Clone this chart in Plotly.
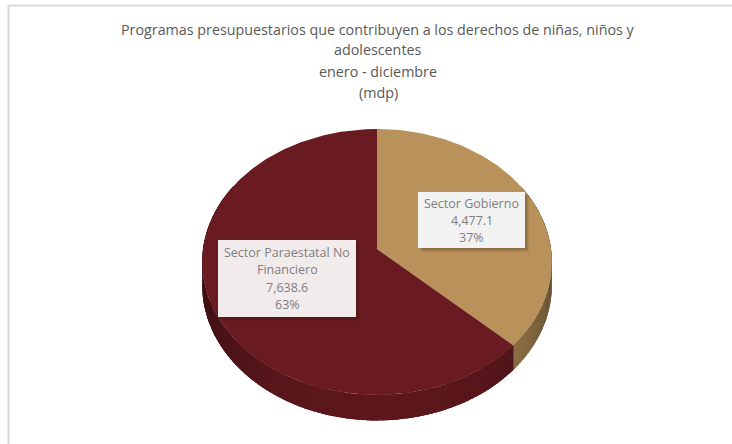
import math
import textwrap
import plotly.graph_objects as go

title_lines = [
    "Programas presupuestarios que contribuyen a los derechos de niñas, niños y",
    "adolescentes",
    "enero - diciembre",
    "(mdp)",
]
sectors = ["Sector Gobierno", "Sector Paraestatal No Financiero"]
amounts = [4477.1, 7638.6]
slice_colors = [(184, 146, 90), (106, 27, 33)]

W, H = 732, 444
FONT = "Open Sans"

# tilted disc seen in perspective, everything in screen pixels
CX, CY = 377, 249
A, B, K = 174, 131.7, 0.0977
DEPTH = 23


def rim(theta, drop=0.0):
    t = math.radians(theta)
    u, v = math.sin(t), math.cos(t)
    w = 1 + K * v
    return CX + A * u / w, CY - B * v / w + drop / w


def shade(rgb, f):
    return "rgb(%d,%d,%d)" % tuple(int(c * f) for c in rgb)


def poly(fig, pts, color, name=None):
    fig.add_trace(go.Scatter(
        x=[p[0] for p in pts] + [pts[0][0]],
        y=[p[1] for p in pts] + [pts[0][1]],
        fill="toself", fillcolor=color, mode="lines",
        line=dict(color=color, width=0), name=name,
        hoverinfo="name" if name else "skip", showlegend=False))


total = sum(amounts)
bounds = [0.0]
for a in amounts:
    bounds.append(bounds[-1] + 360.0 * a / total)

fig = go.Figure()

# side walls first, top faces cover the hidden part
for i in range(len(amounts)):
    a0, a1 = max(bounds[i], 60), min(bounds[i + 1], 300)
    steps = [a0 + (a1 - a0) * k / 120 for k in range(121)]
    base = [rim(p) for p in steps] + [rim(p, DEPTH) for p in reversed(steps)]
    poly(fig, base, shade(slice_colors[i], 0.7))
    phi = a0
    while phi < a1:
        p1 = min(phi + 1.5, a1)
        pe = min(p1 + 0.6, a1)
        pts = [rim(phi), rim(pe), rim(pe, DEPTH), rim(phi, DEPTH)]
        mid = (phi + p1) / 2
        f = 0.45 + 0.43 * max(math.sin(math.radians(mid - 90)), 0) ** 0.9
        poly(fig, pts, shade(slice_colors[i], f))
        phi = p1

for i in range(len(amounts)):
    a0, a1 = bounds[i], bounds[i + 1]
    n = max(int(a1 - a0), 2)
    pts = [(CX, CY)] + [rim(a0 + (a1 - a0) * k / n) for k in range(n + 1)]
    poly(fig, pts, shade(slice_colors[i], 1.0), name=sectors[i])

# data labels
label_boxes = [
    dict(x=471.5, y=220, w=107, h=56, bg="#F2F2F2", step=17),
    dict(x=287, y=278.5, w=138, h=77, bg="#F2EBEB", step=17.6),
]
for i, box in enumerate(label_boxes):
    lines = textwrap.wrap(sectors[i], 21)
    lines += ["{:,.1f}".format(amounts[i]), "{:.0f}%".format(100 * amounts[i] / total)]
    x0, x1 = box["x"] - box["w"] / 2, box["x"] + box["w"] / 2
    y0, y1 = box["y"] - box["h"] / 2, box["y"] + box["h"] / 2
    for off, op in [(4, 0.08), (3, 0.10), (1.5, 0.14)]:
        fig.add_shape(type="rect", x0=x0 + off, x1=x1 + off, y0=y0 + off, y1=y1 + off,
                      fillcolor="rgba(40,20,10,%.2f)" % op, line_width=0, layer="above")
    fig.add_shape(type="rect", x0=x0, x1=x1, y0=y0, y1=y1,
                  fillcolor=box["bg"], line_width=0, layer="above")
    top = box["y"] - box["step"] * (len(lines) - 1) / 2
    for k, txt in enumerate(lines):
        fig.add_annotation(
            x=box["x"], y=top + k * box["step"], xref="x", yref="y", text=txt,
            showarrow=False, font=dict(family=FONT, size=12.5, color="#7F7F7F"))

title_y = [29, 49, 71, 92]
for txt, ty in zip(title_lines, title_y):
    fig.add_annotation(x=378, y=ty, xref="x", yref="y", text=txt, showarrow=False,
                       font=dict(family=FONT, size=14.3, color="#595959"))

# chart area border
fig.add_shape(type="rect", x0=8.5, y0=5.5, x1=W + 20, y1=H + 20,
              line=dict(color="#D9D9D9", width=2), layer="below")

fig.update_layout(
    width=W, height=H,
    margin=dict(l=0, r=0, t=0, b=0),
    paper_bgcolor="white", plot_bgcolor="white",
    xaxis=dict(range=[0, W], visible=False, fixedrange=True),
    yaxis=dict(range=[H, 0], visible=False, fixedrange=True),
)

fig.write_html("out.html", config={"displayModeBar": False},
               post_script="document.body.style.margin='0';")
